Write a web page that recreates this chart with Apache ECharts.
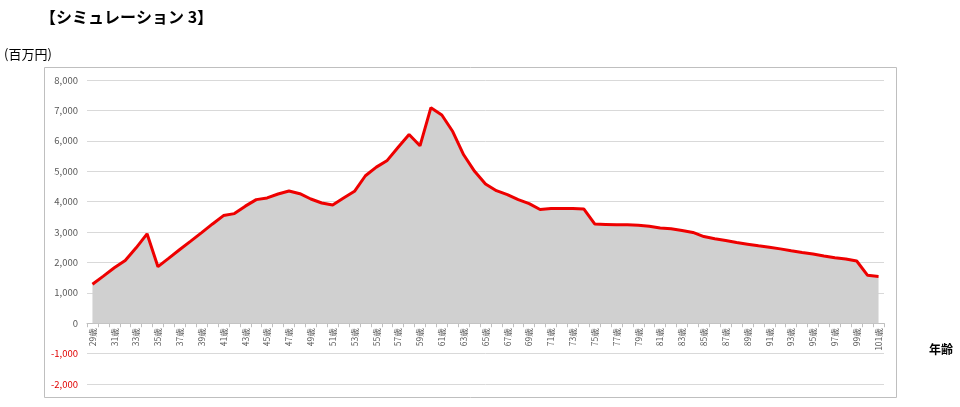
<!DOCTYPE html>
<html><head><meta charset="utf-8">
<script src="https://cdn.jsdelivr.net/npm/echarts@6/dist/echarts.min.js"></script>
<style>html,body{margin:0;padding:0;background:#fff}#c{width:960px;height:407px}</style>
</head><body><div id="c"></div>
<script>
const titleText = '【シミュレーション 3】';
const unitText = '(百万円)';
const xName = '年齢';
const categories = ['29歳','30歳','31歳','32歳','33歳','34歳','35歳','36歳','37歳','38歳','39歳','40歳','41歳','42歳','43歳','44歳','45歳','46歳','47歳','48歳','49歳','50歳','51歳','52歳','53歳','54歳','55歳','56歳','57歳','58歳','59歳','60歳','61歳','62歳','63歳','64歳','65歳','66歳','67歳','68歳','69歳','70歳','71歳','72歳','73歳','74歳','75歳','76歳','77歳','78歳','79歳','80歳','81歳','82歳','83歳','84歳','85歳','86歳','87歳','88歳','89歳','90歳','91歳','92歳','93歳','94歳','95歳','96歳','97歳','98歳','99歳','100歳','101歳'];
const assets = [1280,1550,1825,2065,2480,2940,1860,2140,2425,2700,
                2980,3265,3540,3605,3850,4065,4120,4250,4350,4260,
                4085,3955,3890,4120,4340,4850,5135,5355,5790,6210,
                5835,7090,6850,6305,5540,4995,4580,4360,4230,4065,
                3935,3740,3770,3770,3770,3760,3265,3250,3235,3235,
                3225,3190,3135,3105,3050,2985,2850,2780,2720,2655,
                2600,2545,2500,2445,2380,2325,2275,2210,2150,2110,
                2045,1575,1540];
const yMin = -2000, yMax = 8000, yStep = 1000;

const font = '"Noto Sans CJK JP", "Noto Sans", sans-serif';
const gridTop = 80, gridBottom = 23, H = 407;
const plotH = H - gridTop - gridBottom;
const zeroOffset = plotH * (0 - yMin) / (yMax - yMin);

const chart = echarts.init(document.getElementById('c'));
chart.setOption({
  animation: false,
  textStyle: { fontFamily: font },
  graphic: [
    { type: 'rect', shape: { x: 44.5, y: 67.5, width: 852, height: 330 }, style: { fill: 'none', stroke: '#bfbfbf', lineWidth: 1 }, z: -1 },
    { type: 'text', left: 40, top: 9, style: { text: titleText, font: 'bold 16px ' + font, fill: '#000' } },
    { type: 'text', left: 4, top: 48, style: { text: unitText, font: '13px ' + font, fill: '#000' } },
    { type: 'text', left: 929, top: 343, style: { text: xName, font: 'bold 12px ' + font, fill: '#000' } }
  ],
  grid: { left: 87, right: 76, top: gridTop, bottom: gridBottom, containLabel: false, outerBoundsMode: 'none' },
  xAxis: {
    type: 'category', data: categories, boundaryGap: true,
    offset: -zeroOffset,
    axisLine: { onZero: false, lineStyle: { color: '#bfbfbf' } },
    axisTick: { show: true, interval: 0, length: 4, lineStyle: { color: '#bfbfbf' } },
    axisLabel: { interval: 1, rotate: 90, fontSize: 8.5, color: '#595959', margin: 5 },
    splitLine: { show: false }
  },
  yAxis: {
    type: 'value', min: yMin, max: yMax, interval: yStep,
    axisLine: { show: false }, axisTick: { show: false },
    axisLabel: {
      fontSize: 9.5, margin: 9,
      color: function (v) { return v < 0 ? '#e00000' : '#595959'; },
      formatter: function (v) { return v.toLocaleString('en-US'); }
    },
    splitLine: { lineStyle: { color: '#d9d9d9', width: 1 } }
  },
  series: [{
    type: 'line', data: assets, symbol: 'none',
    lineStyle: { color: '#ee0000', width: 3 },
    areaStyle: { color: '#d0d0d0', opacity: 1 }
  }]
});
</script></body></html>
